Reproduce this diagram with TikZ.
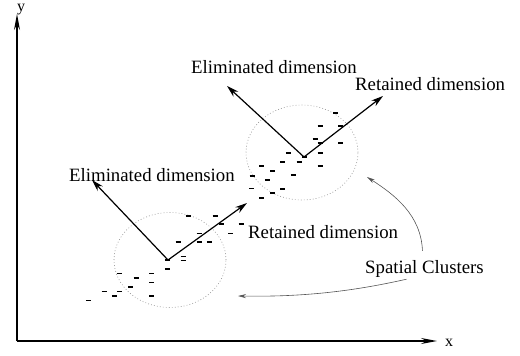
\documentclass[tikz,border=0pt]{standalone}
\usepackage{fontspec}
\setmainfont{Liberation Serif}
\usepackage{xcolor}
\usepackage{tikz}
\usetikzlibrary{arrows.meta, shapes.geometric}
\definecolor{ink}{HTML}{000000}
\definecolor{clusterline}{HTML}{8C8C8C}
\definecolor{calloutline}{HTML}{555555}
\tikzset{
    axisline/.style={
        -{Stealth[length=16pt, width=6pt]}, line width=1.4pt, color=ink
    },
    dimarrow/.style={
        -{Stealth[length=12pt, width=7pt]}, line width=1.2pt, color=ink
    },
    callout/.style={
        -{Stealth[length=8pt, width=4pt]}, line width=0.6pt, color=calloutline
    },
    clusterbox/.style={
        ellipse, draw=clusterline, dash pattern={on 0.8pt off 2.2pt},
        line width=0.6pt, minimum width=112pt, minimum height=95pt, inner sep=0pt
    },
    dimlabel/.style={
        font=\fontsize{18.8}{22}\selectfont, text=ink, inner sep=0pt, anchor=base west
    },
    axislabel/.style={
        font=\fontsize{16}{19}\selectfont, text=ink, inner sep=0pt, anchor=base
    },
    datamark/.style={
        line width=1.9pt, color=ink
    },
}

\begin{document}
\begin{tikzpicture}[x=1pt, y=-1pt]
    \useasboundingbox (0,0) rectangle (520,356);

    % axes
    \coordinate (origin) at (17,341);
    \coordinate (ytip) at (17,14);
    \coordinate (xtip) at (437,341);
    \draw[axisline] (origin) -- (ytip);
    \draw[axisline] (origin) -- (xtip);
    \node[axislabel] (ylab) at (21,12) {y};
    \node[axislabel] (xlab) at (449,346) {x};

    % clusters
    \node[clusterbox] (lowclus) at (170,260) {};
    \node[clusterbox] (upclus) at (302,152.5) {};

    \foreach \px/\py in {188/216, 215/216, 221/224, 241/224, 199/233.5, 230.5/233.5,
        178/242.3, 199/242.3, 209.3/242.3, 167.3/260.3, 183/256.5, 183/260.5,
        167.3/269, 119.5/273.5, 151.5/273.5, 136/278.3, 151.5/282.5, 130.5/287,
        104/291.5, 119.5/291.5, 114.3/296.3, 151.5/296.3, 88.3/300.5, 252/176, 251.5/188.5}
        \draw[datamark] (\px,\py) +(-2.5,0) -- +(2.5,0);
    \foreach \px/\py in {335.7/112.7, 320/125.7, 340.7/125.7, 315/139.3, 320/143.3,
        340.7/143.3, 288.3/152.7, 320/152.7, 282.7/161.7, 299/161.7, 304.3/157.3,
        320/166, 261.7/166, 272.7/170.7, 293.3/175.3, 267.3/180, 282.7/188.7,
        272.7/193.3, 261.7/197.7}
        \draw[datamark] (\px,\py) +(-2.5,0) -- +(2.5,0);

    % dimensions
    \coordinate (loworig) at (168,260);
    \coordinate (lowelim) at (92,180);
    \coordinate (lowret) at (247,203);
    \coordinate (uporig) at (304,157);
    \coordinate (upelim) at (227,86);
    \coordinate (upret) at (383,96);
    \draw[dimarrow] (loworig) -- (lowelim);
    \draw[dimarrow] (loworig) -- (lowret);
    \draw[dimarrow] (uporig) -- (upelim);
    \draw[dimarrow] (uporig) -- (upret);

    \node[dimlabel] (upelimlab) at (191,73) {Eliminated dimension};
    \node[dimlabel] (upretlab) at (355,90) {Retained dimension};
    \node[dimlabel] (lowelimlab) at (69,181) {Eliminated dimension};
    \node[dimlabel] (lowretlab) at (248,238) {Retained dimension};
    \node[dimlabel] (spatlab) at (365,273) {Spatial Clusters};

    % callouts
    \coordinate (uphit) at (367,177);
    \coordinate (lowhit) at (238,296);
    \draw[callout] ([xshift=-2pt, yshift=9pt]spatlab.north) .. controls (421,215) and (395,195) .. (uphit);
    \draw[callout] ([xshift=-18pt, yshift=-2pt]spatlab.south) .. controls (350,292) and (300,297) .. (lowhit);
\end{tikzpicture}
\end{document}
